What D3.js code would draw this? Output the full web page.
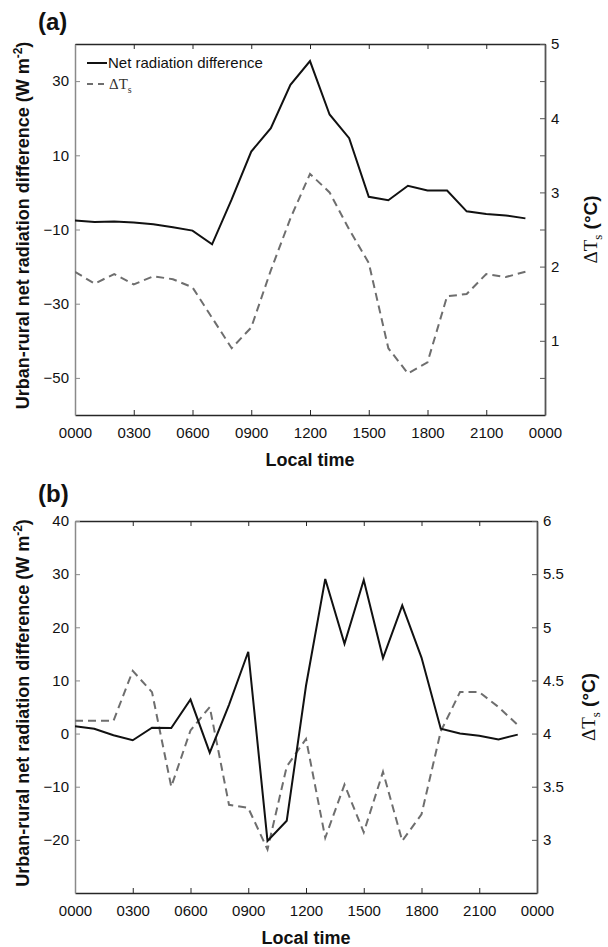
<!DOCTYPE html>
<html><head><meta charset="utf-8">
<script src="https://cdn.jsdelivr.net/npm/d3@7"></script>
<style>body{margin:0;background:#fff}svg{display:block}</style>
</head><body><svg id="c" width="608" height="947"></svg>
<script>
// ---------- data ----------
const hours = d3.range(0, 24);
const xTickValues = [0, 3, 6, 9, 12, 15, 18, 21, 24];
const xTickLabels = ["0000","0300","0600","0900","1200","1500","1800","2100","0000"];

// Panel (a)
const netRadA = [-7.6,-8.0,-7.85,-8.1,-8.6,-9.4,-10.3,-14.0,-1.9,11.0,17.3,29.0,35.4,21.0,14.6,-1.2,-2.1,1.8,0.5,0.5,-5.1,-5.8,-6.2,-7.0];
const dTsA = [1.93,1.77,1.90,1.76,1.87,1.83,1.72,1.31,0.90,1.18,1.95,2.65,3.25,3.00,2.50,2.05,0.90,0.56,0.71,1.60,1.63,1.90,1.86,1.93];
const leftTicksA = [30, 10, -10, -30, -50];
const rightTicksA = [5, 4.5, 4, 3.5, 3, 2.5, 2, 1.5, 1, 0.5];
const rightLabelsA = [5, 4, 3, 2, 1];

// Panel (b)
const netRadB = [1.4,0.9,-0.3,-1.25,1.1,1.05,6.4,-3.6,5.4,15.4,-20.2,-16.4,9.0,29.1,16.9,28.9,14.2,24.1,14.3,0.9,0.0,-0.4,-1.1,-0.2];
const dTsB = [4.12,4.12,4.12,4.59,4.39,3.50,4.03,4.25,3.33,3.30,2.91,3.69,3.95,3.02,3.52,3.07,3.64,2.99,3.24,4.02,4.39,4.39,4.25,4.08];
const leftTicksB = [40, 30, 20, 10, 0, -10, -20];
const rightTicksB = [6, 5.5, 5, 4.5, 4, 3.5, 3];

const legendLabels = ["Net radiation difference", "\u0394T", "s"];
const yLabelText = ["Urban-rural net radiation difference (W m", "-2", ")"];

// ---------- drawing ----------
const svg = d3.select("#c");
const SANS = "'Liberation Sans', Arial, Helvetica, sans-serif";
const SERIF = "'Liberation Serif', 'Times New Roman', serif";

function panel(cfg) {
  const x = d3.scaleLinear().domain([0, 24]).range([cfg.x0, cfg.x1]);
  const yL = d3.scaleLinear().domain(cfg.leftDomain).range([cfg.y1, cfg.y0]);
  const yR = d3.scaleLinear().domain(cfg.rightDomain).range([cfg.y1, cfg.y0]);
  const g = svg.append("g");

  const gb = g.append("g").attr("transform", `translate(0,${cfg.y1})`)
    .call(d3.axisBottom(x).tickValues(xTickValues)
      .tickFormat((d, i) => xTickLabels[i]).tickSizeInner(-5).tickSizeOuter(0).tickPadding(12));
  const gt = g.append("g").attr("transform", `translate(0,${cfg.y0})`)
    .call(d3.axisTop(x).tickValues(xTickValues).tickFormat("").tickSizeInner(-5).tickSizeOuter(0));
  [gb, gt].forEach(a => {
    a.select(".domain").attr("stroke", "#262626").attr("stroke-width", 1.5);
    a.selectAll(".tick line").attr("stroke", "#262626");
  });
  const gl = g.append("g").attr("transform", `translate(${cfg.x0},0)`)
    .call(d3.axisLeft(yL).tickValues(cfg.leftTicks).tickSizeInner(-5).tickSizeOuter(0).tickPadding(6));
  gl.select(".domain").attr("stroke", "#8a8a8a").attr("stroke-width", 1.5);
  gl.selectAll(".tick line").attr("stroke", "#8a8a8a");
  const gr = g.append("g").attr("transform", `translate(${cfg.x1},0)`)
    .call(d3.axisRight(yR).tickValues(cfg.rightTicks)
      .tickFormat(d => cfg.rightLabels.includes(d) ? d3.format("")(d) : "")
      .tickSizeInner(-5).tickSizeOuter(0).tickPadding(6));
  gr.select(".domain").attr("stroke", "#555").attr("stroke-width", 1.8);
  gr.selectAll(".tick line").attr("stroke", "#555");

  [gb, gl, gr].forEach(a => a.selectAll("text")
    .attr("font-family", SANS).attr("font-size", 15).attr("fill", "#111"));

  const clip = "clip" + cfg.id;
  g.append("clipPath").attr("id", clip).append("rect")
    .attr("x", cfg.x0).attr("y", cfg.y0).attr("width", cfg.x1 - cfg.x0).attr("height", cfg.y1 - cfg.y0);
  g.append("path").datum(cfg.dts)
    .attr("clip-path", `url(#${clip})`)
    .attr("fill", "none").attr("stroke", "#6e6e6e").attr("stroke-width", 2)
    .attr("stroke-dasharray", "8,5")
    .attr("d", d3.line().x((d, i) => x(hours[i])).y(d => yR(d)));
  g.append("path").datum(cfg.net)
    .attr("clip-path", `url(#${clip})`)
    .attr("fill", "none").attr("stroke", "#111").attr("stroke-width", 2)
    .attr("d", d3.line().x((d, i) => x(hours[i])).y(d => yL(d)));

  g.append("text").attr("x", 38).attr("y", cfg.letterY)
    .attr("font-family", SANS).attr("font-weight", "bold").attr("font-size", 24)
    .attr("fill", "#111").text(cfg.letter);

  g.append("text").attr("x", (cfg.x0 + cfg.x1) / 2).attr("y", cfg.y1 + 51)
    .attr("text-anchor", "middle").attr("font-family", SANS).attr("font-weight", "bold")
    .attr("font-size", 18).attr("fill", "#111").text("Local time");

  const cy = (cfg.y0 + cfg.y1) / 2;
  const yl = g.append("text").attr("transform", `translate(29,${cy - 4}) rotate(-90)`)
    .attr("text-anchor", "middle").attr("font-family", SANS).attr("font-weight", "bold")
    .attr("font-size", 18).attr("fill", "#111");
  yl.append("tspan").text(yLabelText[0]);
  yl.append("tspan").attr("dy", -7).attr("font-size", 12).text(yLabelText[1]);
  yl.append("tspan").attr("dy", 7).text(yLabelText[2]);

  const yr = g.append("text").attr("transform", `translate(${cfg.rightLabelX},${cy}) rotate(-90)`)
    .attr("text-anchor", "middle").attr("font-size", 19).attr("fill", "#111");
  yr.append("tspan").attr("font-family", SERIF).text("\u0394T");
  yr.append("tspan").attr("font-family", SERIF).attr("font-size", 13).attr("dy", 5).text("s");
  yr.append("tspan").attr("font-family", SANS).attr("font-weight", "bold").attr("dy", -5).text(" (\u00B0C)");

  if (cfg.legend) {
    const lx = cfg.x0 + 12, ly = cfg.y0 + 19;
    g.append("line").attr("x1", lx).attr("x2", lx + 20).attr("y1", ly).attr("y2", ly)
      .attr("stroke", "#111").attr("stroke-width", 2);
    g.append("text").attr("x", lx + 21).attr("y", ly + 5).attr("font-family", SANS)
      .attr("font-size", 15).attr("fill", "#111").text(legendLabels[0]);
    g.append("line").attr("x1", lx).attr("x2", lx + 20).attr("y1", ly + 21).attr("y2", ly + 21)
      .attr("stroke", "#6e6e6e").attr("stroke-width", 2).attr("stroke-dasharray", "6,5");
    const t = g.append("text").attr("x", lx + 22).attr("y", ly + 26).attr("font-family", SERIF)
      .attr("font-size", 15).attr("fill", "#333");
    t.append("tspan").text(legendLabels[1]);
    t.append("tspan").attr("font-size", 10).attr("dy", 4).text(legendLabels[2]);
  }
}

panel({id: "a", x0: 75, x1: 545, y0: 44, y1: 415, leftDomain: [-60, 40], rightDomain: [0, 5],
  leftTicks: leftTicksA, rightTicks: rightTicksA, rightLabels: rightLabelsA,
  net: netRadA, dts: dTsA, letter: "(a)", letterY: 30, legend: true, rightLabelX: 597});
panel({id: "b", x0: 75, x1: 537, y0: 521, y1: 893, leftDomain: [-30, 40], rightDomain: [2.5, 6],
  leftTicks: leftTicksB, rightTicks: rightTicksB, rightLabels: rightTicksB,
  net: netRadB, dts: dTsB, letter: "(b)", letterY: 502, legend: false, rightLabelX: 595});
</script>
</body></html>
